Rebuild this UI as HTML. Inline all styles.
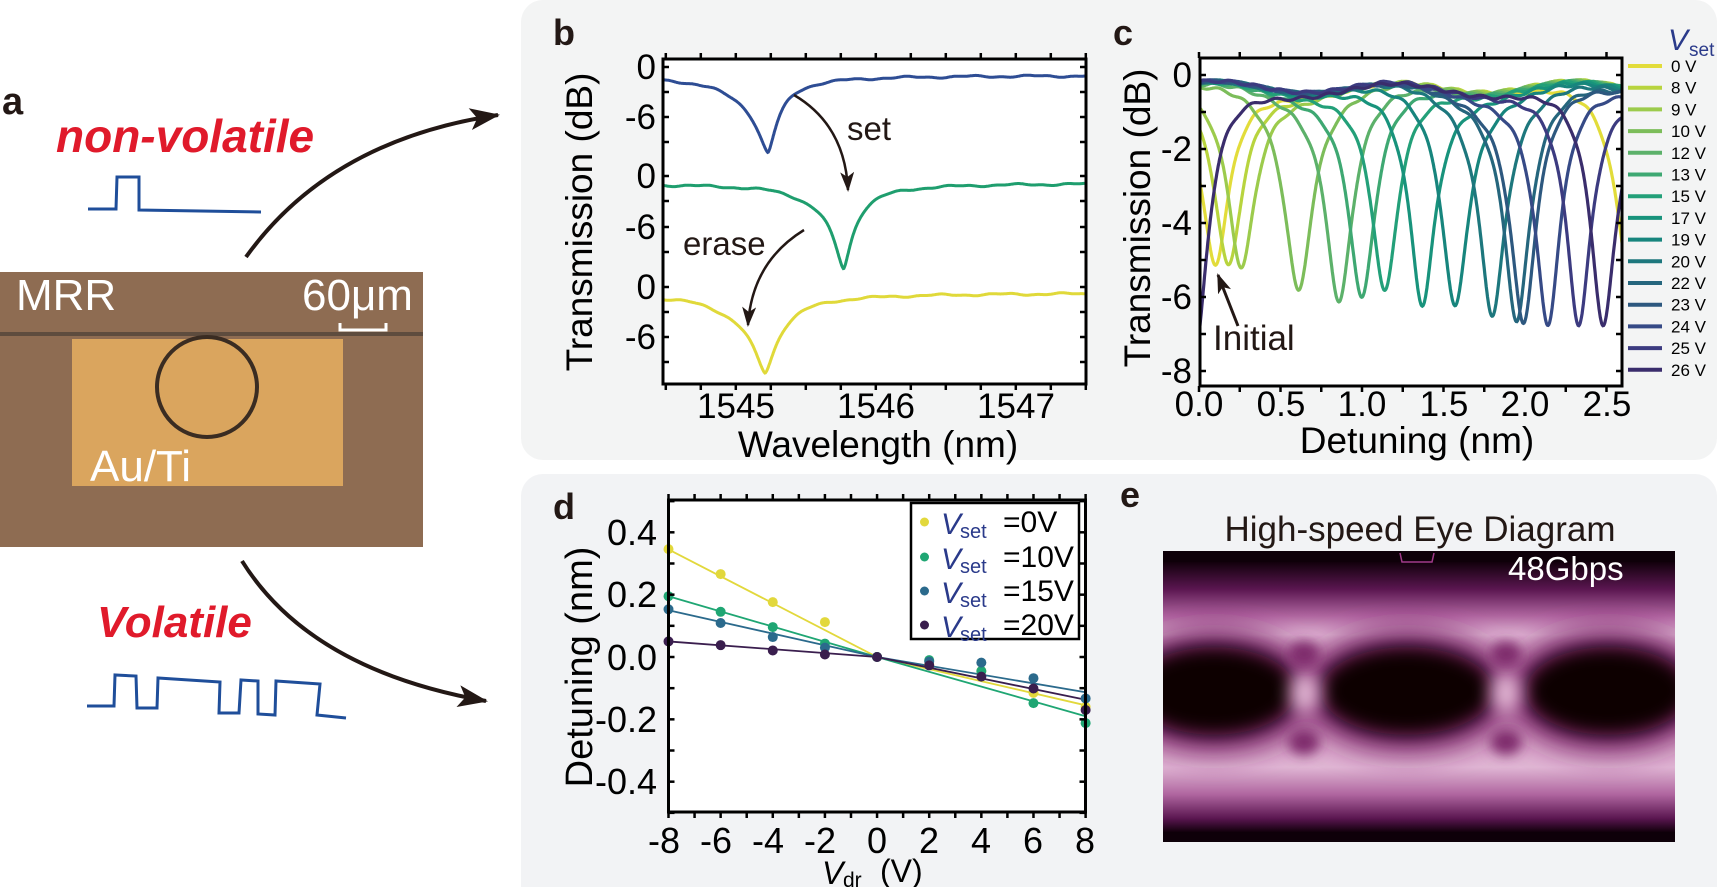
<!DOCTYPE html>
<html><head><meta charset="utf-8"><style>
html,body{margin:0;padding:0;background:#fff}
svg{display:block}
text{font-family:"Liberation Sans",Arial,sans-serif}
</style></head><body>
<svg id="s" width="1720" height="887" viewBox="0 0 1720 887" xmlns="http://www.w3.org/2000/svg">
<defs>
<marker id="ah" viewBox="0 0 20 14" refX="18" refY="7" markerWidth="20" markerHeight="14" markerUnits="userSpaceOnUse" orient="auto"><path d="M0,0 L20,7 L0,14 L5,7 Z" fill="#231815"/></marker>
<marker id="ahb" viewBox="0 0 30 22" refX="28" refY="11" markerWidth="30" markerHeight="22" markerUnits="userSpaceOnUse" orient="auto"><path d="M0,0 L30,11 L0,22 L7,11 Z" fill="#231815"/></marker>
<filter id="b8" x="-50%" y="-50%" width="200%" height="200%"><feGaussianBlur stdDeviation="9"/></filter>
<filter id="b5" x="-50%" y="-50%" width="200%" height="200%"><feGaussianBlur stdDeviation="6"/></filter>
<filter id="b12" x="-50%" y="-50%" width="200%" height="200%"><feGaussianBlur stdDeviation="14"/></filter>
<clipPath id="ceye"><rect x="1163" y="551" width="512" height="291"/></clipPath>
<clipPath id="cc"><rect x="1200" y="58" width="422" height="328"/></clipPath>
<linearGradient id="gband" x1="0" y1="0" x2="0" y2="1">
<stop offset="0" stop-color="#12000c"/><stop offset="0.1" stop-color="#5a1650"/><stop offset="0.2" stop-color="#b066a0"/><stop offset="0.27" stop-color="#e0b6d4"/><stop offset="0.34" stop-color="#d8a4c8"/><stop offset="0.5" stop-color="#c07ab0"/><stop offset="0.66" stop-color="#d8a4c8"/><stop offset="0.76" stop-color="#e0b6d4"/><stop offset="0.86" stop-color="#b066a0"/><stop offset="0.95" stop-color="#5a1650"/><stop offset="1" stop-color="#12000c"/>
</linearGradient>
</defs>

<!-- panel backgrounds -->
<rect x="521" y="0" width="1196" height="460" rx="22" fill="#f3f4f4"/>
<rect x="521" y="474" width="1196" height="440" rx="22" fill="#f2f3f5"/>

<!-- panel a -->
<text x="2" y="114" font-size="38" font-weight="bold" fill="#231815">a</text>
<text x="56" y="152" font-size="46" font-weight="bold" font-style="italic" fill="#e01a2b">non-volatile</text>
<path d="M88,209 L116,209 L117,177 L139,177 L139,210 L261,212" fill="none" stroke="#1f4e9a" stroke-width="3"/>
<path d="M246,257 Q330,140 498,115" fill="none" stroke="#231815" stroke-width="4" marker-end="url(#ahb)"/>
<rect x="0" y="272" width="423" height="275" fill="#8e6c52"/>
<rect x="72" y="339" width="271" height="147" fill="#daa55e"/>
<rect x="0" y="332" width="423" height="4" fill="#5e4c3e"/>
<circle cx="207" cy="387" r="50" fill="none" stroke="#3a2c22" stroke-width="4"/>
<text x="16" y="310" font-size="44" fill="#fff">MRR</text>
<text x="302" y="310" font-size="44" fill="#fff">60μm</text>
<path d="M340,323 L340,330 L386,330 L386,323" fill="none" stroke="#fff" stroke-width="3"/>
<text x="90" y="481" font-size="44" fill="#fff">Au/Ti</text>
<text x="97" y="637" font-size="44" font-weight="bold" font-style="italic" fill="#e01a2b">Volatile</text>
<path d="M87,706 L114,706 L115,675 L136,676 L137,708 L157,708 L158,678 L220,682 L219,713 L239,713 L241,680 L258,681 L258,714 L275,715 L276,681 L320,684 L317,715 L346,718" fill="none" stroke="#1f4e9a" stroke-width="3"/>
<path d="M242,561 Q310,670 486,701" fill="none" stroke="#231815" stroke-width="4" marker-end="url(#ahb)"/>

<!-- panel b -->
<text x="553" y="45" font-size="36" font-weight="bold" fill="#231815">b</text>
<rect x="663" y="59" width="423" height="325" fill="#fff"/>
<g id="gb"></g>
<rect x="663" y="59" width="423" height="325" fill="none" stroke="#000" stroke-width="3"/>
<g font-size="35" text-anchor="end" fill="#000">
<text x="656" y="79">0</text><text x="656" y="129">-6</text>
<text x="656" y="188">0</text><text x="656" y="239">-6</text>
<text x="656" y="299">0</text><text x="656" y="349">-6</text>
</g>
<g font-size="35" text-anchor="middle" fill="#000">
<text x="736" y="418">1545</text><text x="876" y="418">1546</text><text x="1016" y="418">1547</text>
</g>
<g font-size="37" text-anchor="middle" fill="#000">
<text x="878" y="457">Wavelength (nm)</text>
<text transform="translate(592,222) rotate(-90)">Transmission (dB)</text>
</g>
<text x="847" y="140" font-size="33" fill="#231815">set</text>
<text x="683" y="255" font-size="33" fill="#231815">erase</text>
<path d="M794,95 Q845,125 848,190" fill="none" stroke="#231815" stroke-width="2.5" marker-end="url(#ah)"/>
<path d="M804,230 Q752,262 748,325" fill="none" stroke="#231815" stroke-width="2.5" marker-end="url(#ah)"/>

<!-- panel c -->
<text x="1113" y="45" font-size="36" font-weight="bold" fill="#231815">c</text>
<rect x="1200" y="58" width="422" height="328" fill="#fff"/>
<g id="gc" clip-path="url(#cc)"></g>
<rect x="1200" y="58" width="422" height="328" fill="none" stroke="#000" stroke-width="3"/>
<g font-size="35" text-anchor="end" fill="#000">
<text x="1192" y="87">0</text><text x="1192" y="161">-2</text><text x="1192" y="235">-4</text><text x="1192" y="309">-6</text><text x="1192" y="383">-8</text>
</g>
<g font-size="35" text-anchor="middle" fill="#000">
<text x="1199" y="416">0.0</text><text x="1281" y="416">0.5</text><text x="1362" y="416">1.0</text><text x="1444" y="416">1.5</text><text x="1525" y="416">2.0</text><text x="1607" y="416">2.5</text>
</g>
<g font-size="37" text-anchor="middle" fill="#000">
<text x="1417" y="453">Detuning (nm)</text>
<text transform="translate(1150,218) rotate(-90)">Transmission (dB)</text>
</g>
<text x="1213" y="350" font-size="35" fill="#231815">Initial</text>
<path d="M1238,326 L1218,275" fill="none" stroke="#231815" stroke-width="3" marker-end="url(#ah)"/>
<text x="1668" y="50" font-size="30" font-style="italic" fill="#2a3a8a">V</text>
<text x="1689" y="56" font-size="19" fill="#2a3a8a">set</text>
<g id="gleg" font-size="17" fill="#000"></g>

<!-- panel d -->
<text x="553" y="519" font-size="36" font-weight="bold" fill="#231815">d</text>
<rect x="668.5" y="500" width="417" height="312" fill="#fff"/>
<g id="gd"></g>
<rect x="668.5" y="500" width="417" height="312" fill="none" stroke="#000" stroke-width="3"/>
<g font-size="36" text-anchor="end" fill="#000">
<text x="657" y="545">0.4</text><text x="657" y="607">0.2</text><text x="657" y="670">0.0</text><text x="657" y="732">-0.2</text><text x="657" y="794">-0.4</text>
</g>
<g font-size="36" text-anchor="middle" fill="#000">
<text x="664" y="853">-8</text><text x="716" y="853">-6</text><text x="768" y="853">-4</text><text x="820" y="853">-2</text><text x="877" y="853">0</text><text x="929" y="853">2</text><text x="981" y="853">4</text><text x="1033" y="853">6</text><text x="1085" y="853">8</text>
</g>
<text transform="translate(592,667) rotate(-90)" font-size="38" text-anchor="middle" fill="#000">Detuning (nm)</text>
<text x="822" y="884" font-size="32" font-style="italic" fill="#000">V</text>
<text x="843" y="887" font-size="21" fill="#000">dr</text>
<text x="880" y="882" font-size="32" fill="#000">(V)</text>
<rect x="911" y="503" width="168" height="136" fill="#fff" stroke="#000" stroke-width="2.5"/>
<g font-size="30">
<circle cx="924.5" cy="522" r="4.5" fill="#e2d83c"/><text x="941" y="534" font-style="italic" fill="#2a3a8a">V</text><text x="960" y="538" font-size="20" fill="#2a3a8a">set</text><text x="1003" y="532" fill="#000">=0V</text>
<circle cx="924.5" cy="557" r="4.5" fill="#1fa673"/><text x="941" y="569" font-style="italic" fill="#2a3a8a">V</text><text x="960" y="573" font-size="20" fill="#2a3a8a">set</text><text x="1003" y="567" fill="#000">=10V</text>
<circle cx="924.5" cy="591" r="4.5" fill="#2b6a8c"/><text x="941" y="603" font-style="italic" fill="#2a3a8a">V</text><text x="960" y="607" font-size="20" fill="#2a3a8a">set</text><text x="1003" y="601" fill="#000">=15V</text>
<circle cx="924.5" cy="625" r="4.5" fill="#3a1e4e"/><text x="941" y="637" font-style="italic" fill="#2a3a8a">V</text><text x="960" y="641" font-size="20" fill="#2a3a8a">set</text><text x="1003" y="635" fill="#000">=20V</text>
</g>

<!-- panel e -->
<text x="1120" y="507" font-size="36" font-weight="bold" fill="#231815">e</text>
<text x="1420" y="541" font-size="35" text-anchor="middle" fill="#231815">High-speed Eye Diagram</text>
<g clip-path="url(#ceye)">
<rect x="1163" y="551" width="512" height="291" fill="#0e0009"/>
<rect x="1150" y="562" width="540" height="270" fill="url(#gband)"/>
<g filter="url(#b12)" fill="#7a2268">
<ellipse cx="1214" cy="691" rx="100" ry="62"/><ellipse cx="1407" cy="691" rx="104" ry="62"/><ellipse cx="1608" cy="691" rx="100" ry="62"/>
</g>
<g filter="url(#b8)" fill="#080006">
<ellipse cx="1214" cy="691" rx="82" ry="44"/><ellipse cx="1407" cy="691" rx="86" ry="44"/><ellipse cx="1608" cy="691" rx="82" ry="44"/>
</g>
<g filter="url(#b8)" fill="#e6bcd8">
<ellipse cx="1305" cy="693" rx="14" ry="22"/><ellipse cx="1506" cy="693" rx="14" ry="22"/>
</g>
<g filter="url(#b5)" fill="#7e2a6c">
<ellipse cx="1304" cy="654" rx="16" ry="13"/><ellipse cx="1304" cy="742" rx="16" ry="13"/><ellipse cx="1506" cy="654" rx="16" ry="13"/><ellipse cx="1506" cy="742" rx="16" ry="13"/>
</g>
<path d="M1400,553 L1402,562 L1432,562 L1434,553" fill="none" stroke="#a03a8a" stroke-width="1.5"/>
</g>
<text x="1508" y="580" font-size="33" fill="#fff">48Gbps</text>
</svg>
<script>
(function(){
var NS="http://www.w3.org/2000/svg";
function el(p,t,a){var e=document.createElementNS(NS,t);for(var k in a)e.setAttribute(k,a[k]);p.appendChild(e);return e;}
function P(pts){return 'M'+pts.map(function(p){return p[0].toFixed(1)+','+p[1].toFixed(1)}).join('L');}
var s=document.getElementById('s');
function ticks(x0,y0,x1,y1,xs,ys,len){
  var g=el(s,'g',{stroke:'#000','stroke-width':2.5});
  xs.forEach(function(x){el(g,'line',{x1:x,y1:y1,x2:x,y2:y1-len});el(g,'line',{x1:x,y1:y0,x2:x,y2:y0+len});});
  ys.forEach(function(y){el(g,'line',{x1:x0,y1:y,x2:x0+len,y2:y});el(g,'line',{x1:x1,y1:y,x2:x1-len,y2:y});});
}
var gb=document.getElementById('gb');
var bx=function(w){return 663+(w-1544.48)*140;};
var cb=[{c:'#2e4d94',y0:67,base:-1,x0:1545.23,m:-10.2,hl:0.13,hr:0.09,k:0},
        {c:'#1f9e6e',y0:176,base:-0.85,x0:1545.77,m:-11,hl:0.11,hr:0.09,k:1.7},
        {c:'#e0d93a',y0:287,base:-0.7,x0:1545.21,m:-10.2,hl:0.14,hr:0.12,k:3.1}];
cb.forEach(function(o){
  var pts=[];var D=o.base-o.m;
  for(var w=1544.48;w<=1547.5;w+=0.004){
    var d=w-o.x0;var h=d<0?o.hl:o.hr;
    var db=o.base+0.1*Math.sin(w*14+o.k)+0.05*Math.sin(w*37+o.k)-D/(1+Math.pow(Math.abs(d)/h,1.5));
    if(d<0&&d>-0.5) db-=0.3*Math.exp(-Math.pow((d+0.25)/0.15,2));
    pts.push([bx(w),o.y0-db*8.4]);
  }
  el(gb,'path',{d:P(pts),fill:'none',stroke:o.c,'stroke-width':3});
});
var bxt=[],byt=[];
for(var w=1544.5;w<=1547.5;w+=0.25)bxt.push(bx(w));
[67,92,117,142,176,201,227,252,287,312,337,362].forEach(function(y){byt.push(y);});
ticks(663,384,1086,59,bxt,byt,6);
var gc=document.getElementById('gc');
var cx=function(d){return 1199+163*d;};
var cy=function(v){return 75-37*v;};
var C=[['0 V','#e2dc3a',[[0.1,-4.95],[2.64,-5]]],['8 V','#b8d43e',[[0.18,-5]]],['9 V','#9ccb4c',[[0.26,-5]]],['10 V','#7cbd5a',[[0.61,-5.4]]],
['12 V','#5cb16a',[[0.86,-5.8]]],['13 V','#3ea872',[[1.0,-5.8]]],['15 V','#23a079',[[1.14,-5.7]]],['17 V','#18937c',[[1.37,-6.0]]],
['19 V','#17857d',[[1.57,-5.9]]],['20 V','#1d777d',[[1.8,-6.05]]],['22 V','#25667d',[[1.95,-6.3]]],['23 V','#2d587f',[[1.99,-6.4]]],
['24 V','#364a86',[[2.14,-6.55]]],['25 V','#3c3b80',[[2.33,-6.6]]],['26 V','#3a2d6c',[[2.48,-6.55],[-0.02,-7.2]]]];
C.forEach(function(o,i){
  var pts=[];
  for(var d=-0.05;d<=2.65;d+=0.004){
    var T=1;
    o[2].forEach(function(q){var A=1-Math.pow(10,q[1]/10);T*=1-A/(1+Math.pow((d-q[0])/0.14,2));});
    var db=10*Math.log(T)/Math.LN10-0.3+0.15*Math.sin(d*5.7+1)+0.04*Math.sin(d*40+i);
    pts.push([cx(d),cy(db)]);
  }
  el(gc,'path',{d:P(pts),fill:'none',stroke:o[1],'stroke-width':3.2});
  var g=document.getElementById('gleg');var y=66+i*21.7;
  el(g,'line',{x1:1628,y1:y,x2:1662,y2:y,stroke:o[1],'stroke-width':4});
  var t=el(g,'text',{x:1671,y:y+6});t.textContent=o[0];
});
var cxt=[],cyt=[];
for(var d=0;d<=2.55;d+=0.25)cxt.push(cx(d));
for(var v=0;v>=-8;v--)cyt.push(cy(v));
ticks(1200,386,1622,58,cxt,cyt,6);
var gd=document.getElementById('gd');
var dx=function(v){return 668.5+(v+8)*26.07;};
var dy=function(n){return 657-n*311.7;};
var D=[['#e2d83c',[0.346,0.266,0.176,0.112,0,-0.025,-0.045,-0.115,-0.16],0.345,-0.155],
['#1fa673',[0.195,0.145,0.096,0.043,0,-0.01,-0.045,-0.148,-0.212],0.195,-0.19],
['#2b6a8c',[0.153,0.109,0.064,0.03,0,-0.015,-0.018,-0.068,-0.133],0.15,-0.113],
['#3a1e4e',[0.05,0.038,0.021,0.008,0,-0.027,-0.063,-0.101,-0.17],0.05,-0.137]];
D.forEach(function(o){
  el(gd,'path',{d:'M'+dx(-8)+','+dy(o[2])+'L'+dx(0)+','+dy(0)+'L'+dx(8)+','+dy(o[3]),fill:'none',stroke:o[0],'stroke-width':1.8});
});
D.forEach(function(o){
  o[1].forEach(function(n,j){el(gd,'circle',{cx:dx(-8+2*j),cy:dy(n),r:5,fill:o[0]});});
});
var dxt=[],dyt=[];
for(var v=-8;v<=8;v+=1)dxt.push(dx(v));
for(var n=-0.5;n<=0.5001;n+=0.1)dyt.push(dy(n));
ticks(668.5,812,1085.5,500,dxt,dyt,6);
})();
</script>
</body></html>
